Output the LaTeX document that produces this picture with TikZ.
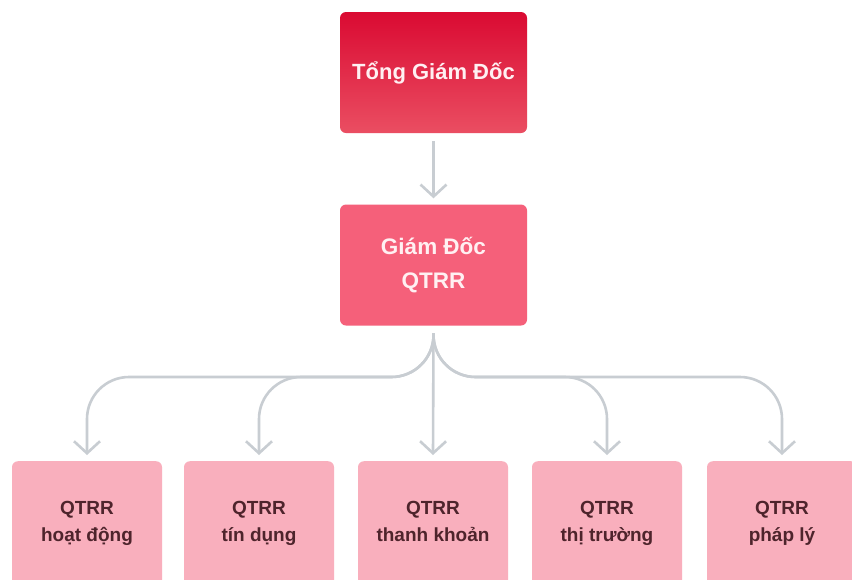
\documentclass[tikz,border=0pt]{standalone}
\usepackage{fontspec}
\setmainfont{Liberation Sans}
\usetikzlibrary{arrows.meta}
\definecolor{topA}{RGB}{218,10,50}
\definecolor{topB}{RGB}{234,78,98}
\definecolor{midC}{RGB}{245,96,122}
\definecolor{lowC}{RGB}{249,175,189}
\definecolor{lowT}{RGB}{78,36,44}
\definecolor{lineC}{RGB}{200,205,210}
\definecolor{whiteT}{RGB}{255,240,242}
\newcommand{\twolines}[2]{#1\\#2\vphantom{gạ}}
\tikzset{
  box/.style={rounded corners=6pt, inner sep=0pt, align=center, font=\bfseries},
  topbox/.style={box, top color=topA, bottom color=topB, minimum width=187pt, minimum height=121pt, text=whiteT, font=\bfseries\fontsize{22}{26}\selectfont},
  midbox/.style={box, fill=midC, minimum width=187pt, minimum height=121pt, text=whiteT, font=\bfseries\fontsize{22.5}{34}\selectfont},
  lowbox/.style={box, fill=lowC, minimum width=150pt, minimum height=125pt, text=lowT, font=\bfseries\fontsize{19}{27}\selectfont},
  conn/.style={draw=lineC, line width=2.6pt, -{Straight Barb[length=12pt,width=26pt,line width=2.6pt]}},
}
\begin{document}
\begin{tikzpicture}[x=1pt,y=-1pt]
\useasboundingbox (0,0) rectangle (852,579);
\clip (0,0) rectangle (852,579);
\fill[white] (0,0) rectangle (852,579);
\node[topbox] (tgd) at (433.5,72.5) {Tổng Giám Đốc};
\node[midbox] (gd) at (433.5,265) {Giám Đốc\\QTRR};
\node[lowbox, anchor=north] (b1) at (87,461) {\twolines{QTRR}{hoạt động}};
\node[lowbox, anchor=north] (b2) at (259,461) {\twolines{QTRR}{tín dụng}};
\node[lowbox, anchor=north] (b3) at (433,461) {\twolines{QTRR}{thanh khoản}};
\node[lowbox, anchor=north] (b4) at (607,461) {\twolines{QTRR}{thị trường}};
\node[lowbox, anchor=north] (b5) at (782,461) {\twolines{QTRR}{pháp lý}};
\coordinate (s0) at (433.5,333);
\draw[conn] ([yshift=-8pt]tgd.south) -- ([yshift=6pt]gd.north);
\foreach \b in {b1,b2,b4,b5}{
  \draw[conn, rounded corners=42pt] (s0) -- (s0 |- 0,377) -- (\b.north |- 0,377) -- ([yshift=6pt]\b.north);
}
\draw[conn] (s0) -- ([yshift=6pt]b3.north);
\end{tikzpicture}
\end{document}
